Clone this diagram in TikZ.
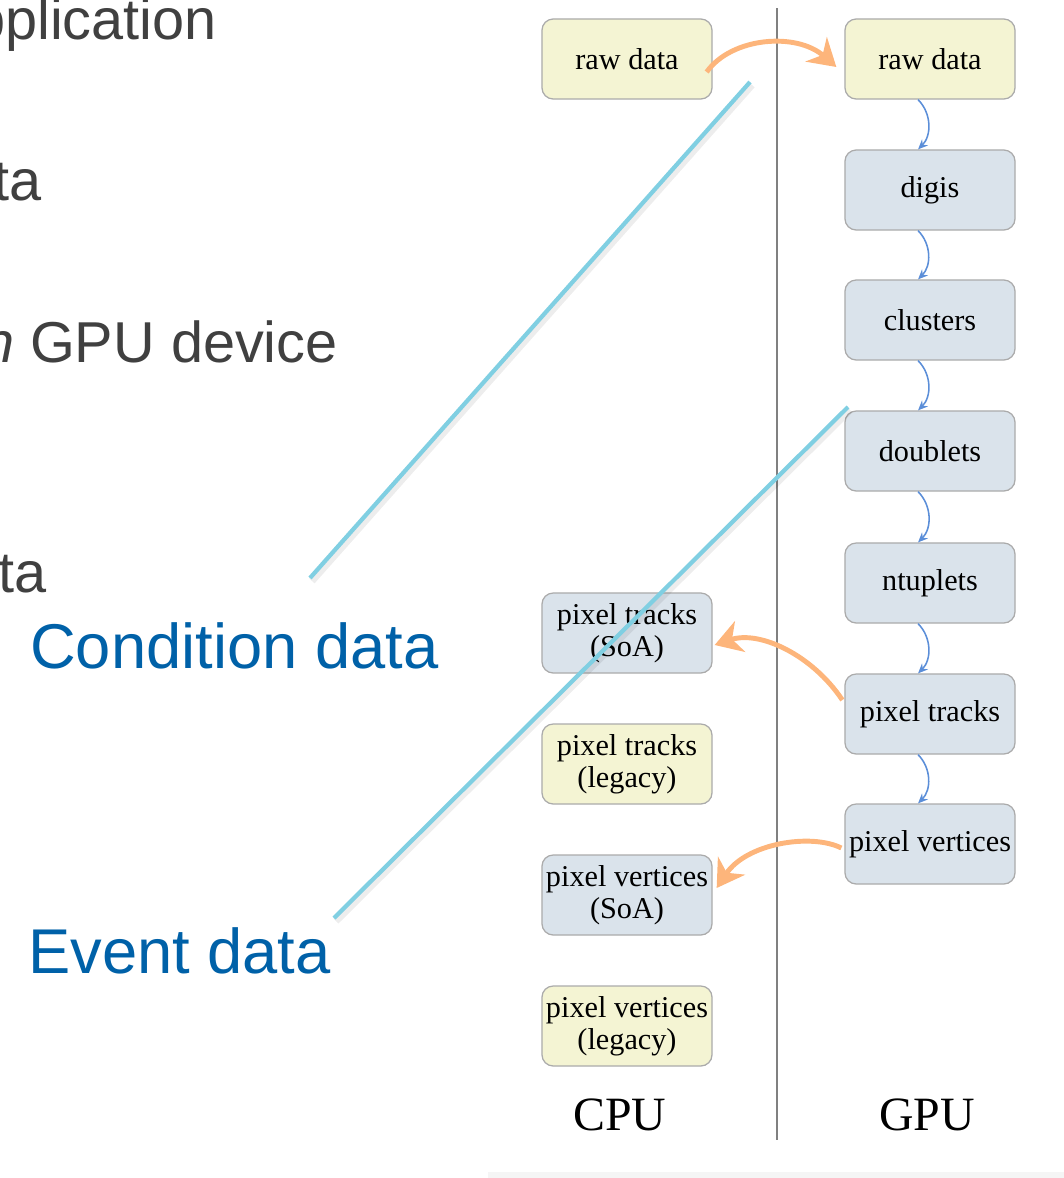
\documentclass[tikz,border=0pt]{standalone}
\usepackage{fontspec}
\setmainfont{Liberation Serif}
\newfontfamily\slidefont{Liberation Sans}
\usetikzlibrary{arrows.meta}

\definecolor{hostfill}{HTML}{F4F4D3}
\definecolor{devfill}{HTML}{DAE3EB}
\definecolor{boxline}{HTML}{ABABAB}
\definecolor{flowblue}{HTML}{5B8ED8}
\definecolor{copyorange}{HTML}{FDB57B}
\definecolor{calloutcyan}{HTML}{80CFE2}
\definecolor{slidegray}{HTML}{404040}
\definecolor{slideblue}{HTML}{0061A8}

\tikzset{
  prod/.style={draw=boxline, line width=0.9pt, rounded corners=8pt,
    minimum width=4.25cm, minimum height=2cm, inner sep=1pt,
    align=center, font=\fontsize{21.5}{23}\selectfont},
  host/.style={prod, fill=hostfill},
  dev/.style={prod, fill=devfill},
  flow/.style={draw=flowblue, line width=1.1pt, -{Stealth[length=7pt,width=6pt]}},
  copy/.style={draw=copyorange, line width=3.5pt, -{Stealth[length=19pt,width=23pt,inset=6pt]}},
  callout/.style={draw=calloutcyan, line width=3pt},
  bullet/.style={font=\slidefont\fontsize{41}{45}\selectfont, text=slidegray, inner sep=0pt},
  kind/.style={font=\slidefont\fontsize{45}{50}\selectfont, text=slideblue, inner sep=0pt}
}

\begin{document}
\begin{tikzpicture}[x=0.025cm, y=-0.025cm]
    \useasboundingbox (0,0) rectangle (1064,1178);
    \clip (0,0) rectangle (1064,1178);
    \fill[black!4] (488,1172) rectangle (1064,1178);

    % slide text on the left
    \node[bullet, anchor=base east] (app) at (217,39) {pplication};
    \node[bullet, anchor=base east] (cond) at (42,200) {ta};
    \node[bullet, anchor=base east] (dev) at (338,362) {\textit{n} GPU device};
    \node[bullet, anchor=base east] (evt) at (47,592) {ta};
    \node[kind, anchor=base west] (condlbl) at (30,668) {Condition data};
    \node[kind, anchor=base west] (evtlbl) at (28,973) {Event data};

    % CPU / GPU separator
    \draw[black!50, line width=0.9pt] (777,8) -- (777,1140);
    \node[font=\fontsize{34}{36}\selectfont] (cpu) at (620,1115) {CPU};
    \node[font=\fontsize{34}{36}\selectfont] (gpu) at (927,1115) {GPU};

    % GPU side
    \node[host] (rawG) at (930,59) {raw data};
    \node[dev] (digis) at (930,190) {digis};
    \node[dev] (clusters) at (930,320) {clusters};
    \node[dev] (doublets) at (930,451) {doublets};
    \node[dev] (ntuplets) at (930,583) {ntuplets};
    \node[dev] (tracksG) at (930,714) {pixel tracks};
    \node[dev] (vertsG) at (930,844) {pixel vertices};

    % CPU side
    \node[host] (rawC) at (627,59) {raw data};
    \node[dev] (tracksS) at (627,633) {pixel tracks\\(SoA)};
    \node[host] (tracksL) at (627,764) {pixel tracks\\(legacy)};
    \node[dev] (vertsS) at (627,895) {pixel vertices\\(SoA)};
    \node[host] (vertsL) at (627,1026) {pixel vertices\\(legacy)};

    \foreach \a/\b in {rawG/digis, digis/clusters, clusters/doublets,
                       doublets/ntuplets, ntuplets/tracksG, tracksG/vertsG}
    {\draw[flow] ([xshift=-8.5pt]\a.south) to[bend left=45] ([xshift=-8.5pt]\b.north);}

    % copies between host and device
    \draw[copy] ([shift={(-6,13)}]rawC.east) .. controls +(25,-35) and +(-40,-35) .. ([shift={(-8,8)}]rawG.west);
    \draw[copy] ([shift={(-2,-14)}]tracksG.west) .. controls +(-30,-45) and +(45,-15) .. ([shift={(2,12)}]tracksS.east);
    \draw[copy] ([shift={(-3,4)}]vertsG.west) .. controls +(-30,-15) and +(30,-45) .. ([shift={(4,-7)}]vertsS.east);

    % callout lines
    \coordinate (c1) at (310,578);
    \coordinate (c2) at (750,82);
    \coordinate (e1) at (334,918);
    \coordinate (e2) at (848,407);
    \draw[black, opacity=0.07, line width=5pt] ([shift={(2,3)}]c1) -- ([shift={(2,3)}]c2);
    \draw[black, opacity=0.07, line width=5pt] ([shift={(2,3)}]e1) -- ([shift={(2,3)}]e2);
    \draw[callout] (c1) -- (c2);
    \draw[callout] (e1) -- (e2);
\end{tikzpicture}
\end{document}
